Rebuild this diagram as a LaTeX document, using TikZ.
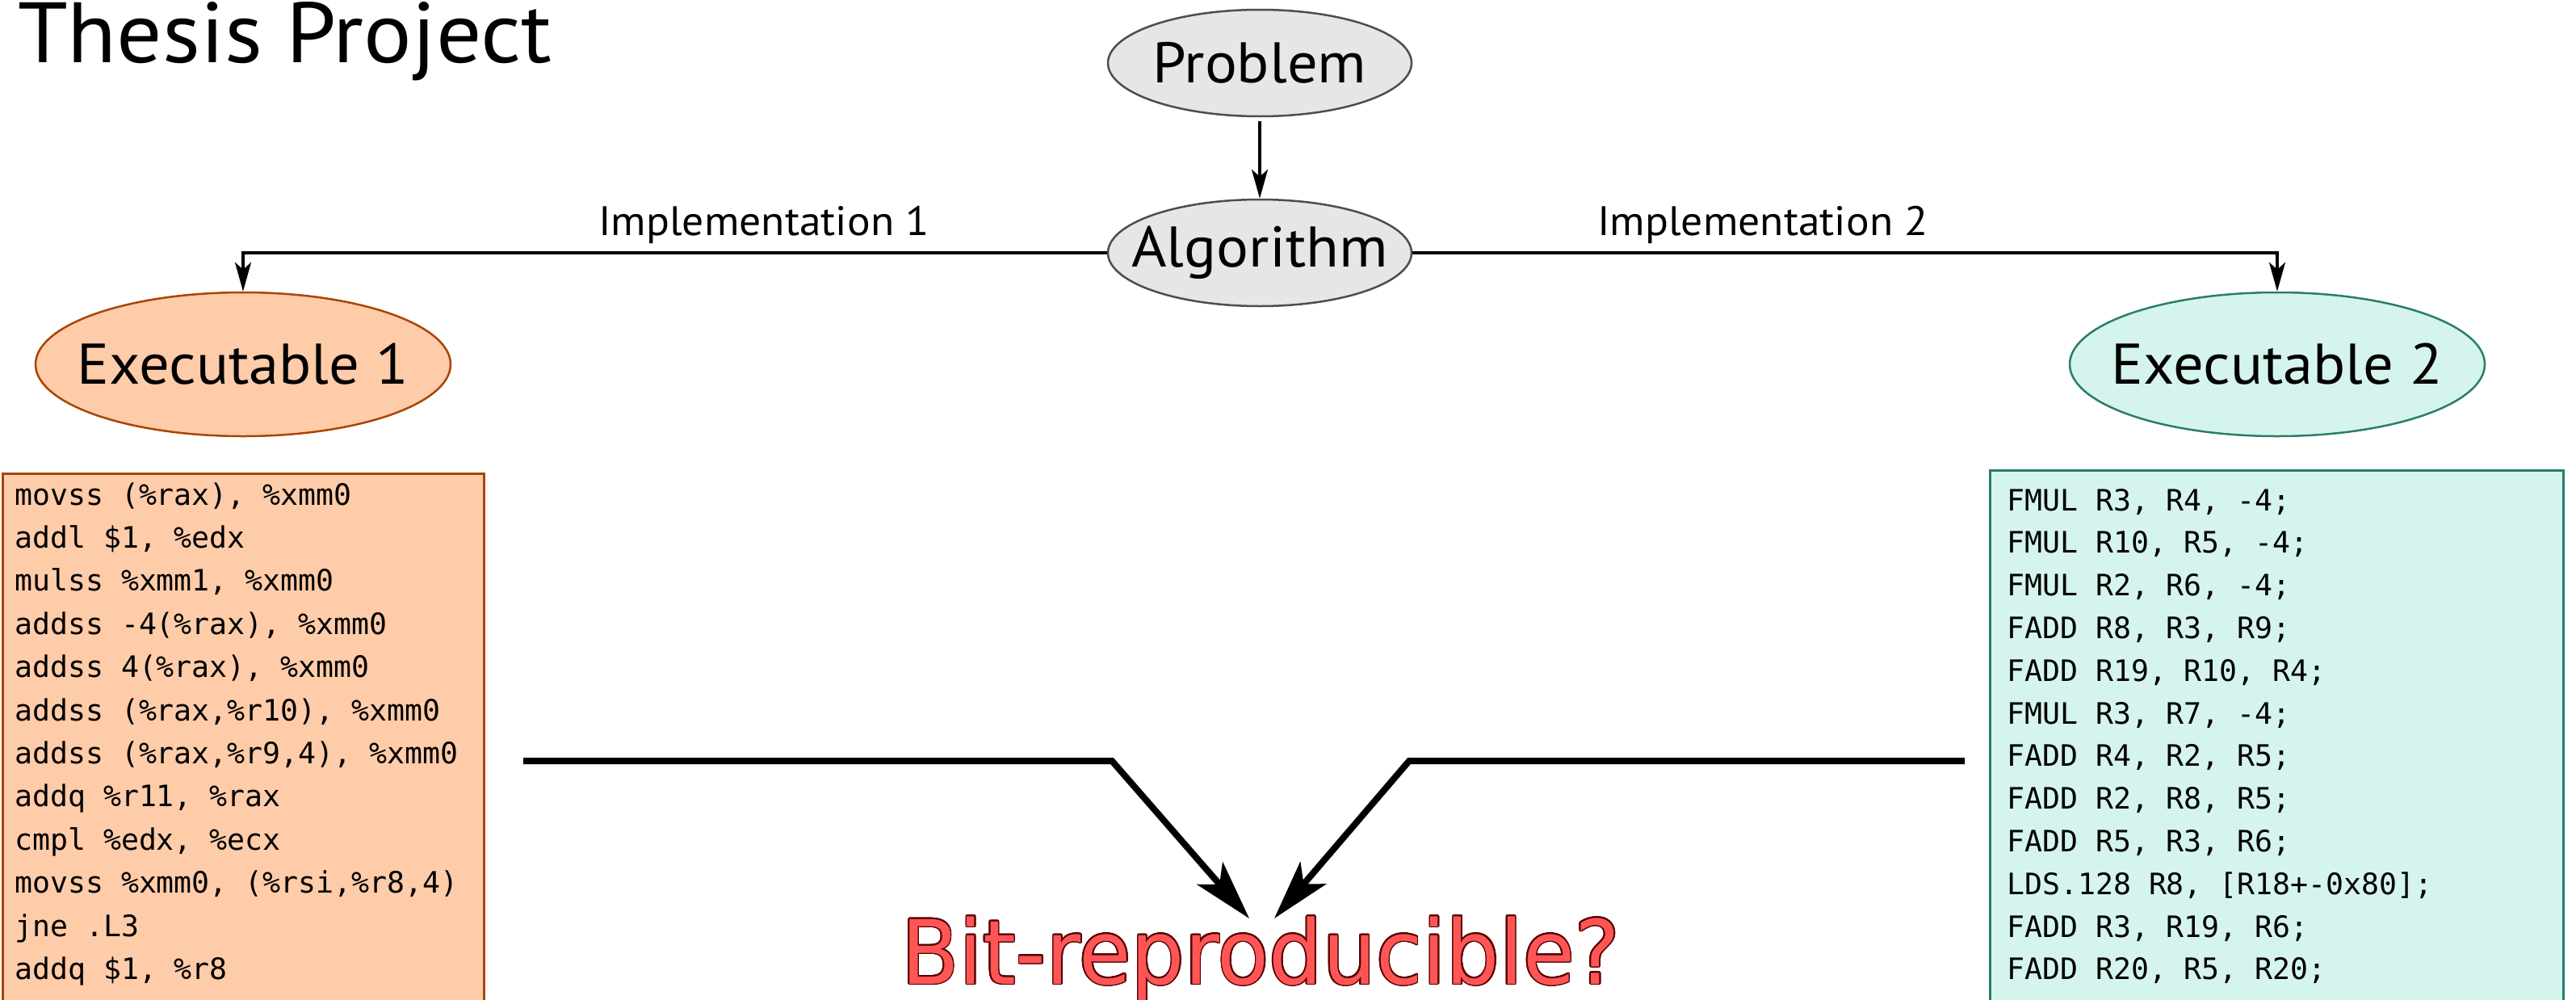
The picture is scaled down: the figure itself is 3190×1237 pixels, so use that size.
\documentclass[tikz,border=0pt]{standalone}
\usepackage{fontspec}
\setmainfont[FakeStretch=1.05]{PT Sans}
\newfontfamily\codefont{DejaVu Sans Mono}
\newfontfamily\headfont[FakeStretch=0.95]{DejaVu Sans}
\usetikzlibrary{shapes.geometric,arrows.meta}

\definecolor{peachfill}{HTML}{FFCCAA}
\definecolor{peachline}{HTML}{AA4400}
\definecolor{mintfill}{HTML}{D5F4EE}
\definecolor{mintline}{HTML}{2A7D6C}
\definecolor{greyfill}{HTML}{E6E6E6}
\definecolor{greyline}{HTML}{4D4D4D}
\definecolor{alarmred}{HTML}{FF5555}
\definecolor{alarmdark}{HTML}{550000}

\begin{document}
\begin{tikzpicture}[x=1pt,y=-1pt,
  oval/.style={ellipse, line width=2.5pt, inner sep=0pt,
    font=\fontsize{71}{80}\selectfont},
  stage/.style={oval, draw=greyline, fill=greyfill,
    minimum width=376pt, minimum height=132pt},
  exe1/.style={oval, draw=peachline, fill=peachfill,
    minimum width=514pt, minimum height=178pt},
  exe2/.style={oval, draw=mintline, fill=mintfill,
    minimum width=514pt, minimum height=178pt},
  thinarrow/.style={line width=3.5pt, -{Stealth[length=36pt,width=20pt,inset=9pt]}},
  bigarrow/.style={line width=8pt, -{Stealth[length=74pt,width=42pt,inset=18pt]}},
  impl/.style={anchor=base, inner sep=0pt, font=\fontsize{51}{60}\selectfont},
  codeline/.style={anchor=base west, inner sep=0pt,
    font=\codefont\fontsize{36.5}{54}\selectfont},
  verdict/.style={anchor=base, inner sep=0pt,
    font=\headfont\fontsize{110}{120}\selectfont},
]
\useasboundingbox (0,0) rectangle (3190,1237);
\begin{scope}
\clip (0,0) rectangle (3190,1237);

% title
\node[anchor=base west, inner sep=0pt, font=\fontsize{106}{120}\selectfont]
  (title) at (22,77) {Thesis Project};

% central chain
\node[stage] (prob) at (1560,78)  {\makebox[0pt]{Problem}};
\node[stage] (alg)  at (1560,313) {\makebox[0pt]{Algorithm}};
\node[exe1]  (ex1)  at (301,451)  {\makebox[0pt]{Executable 1}};
\node[exe2]  (ex2)  at (2820,451) {\makebox[0pt]{Executable 2}};

\draw[thinarrow, shorten <=5pt] (prob.south) -- (alg.north);
\draw[thinarrow] (alg.west) -| (ex1.north);
\draw[thinarrow] (alg.east) -| (ex2.north);

\node[impl] (impl1) at (946,291)  {Implementation 1};
\node[impl] (impl2) at (2183,291) {Implementation 2};

% code listings
\draw[draw=peachline, fill=peachfill, line width=3pt] (3,586) rectangle (599,1260);
\draw[draw=mintline, fill=mintfill, line width=3pt] (2464,582) rectangle (3174,1260);

\foreach \cl [count=\i from 0] in {
  {movss (\%rax), \%xmm0},
  {addl \$1, \%edx},
  {mulss \%xmm1, \%xmm0},
  {addss -4(\%rax), \%xmm0},
  {addss 4(\%rax), \%xmm0},
  {addss (\%rax,\%r10), \%xmm0},
  {addss (\%rax,\%r9,4), \%xmm0},
  {addq \%r11, \%rax},
  {cmpl \%edx, \%ecx},
  {movss \%xmm0, (\%rsi,\%r8,4)},
  {jne .L3},
  {addq \$1, \%r8}}
  \node[codeline, name=asm\i] at (18,625+\i*53.4) {\cl};

\foreach \cl [count=\i from 0] in {
  {FMUL R3, R4, -4;},
  {FMUL R10, R5, -4;},
  {FMUL R2, R6, -4;},
  {FADD R8, R3, R9;},
  {FADD R19, R10, R4;},
  {FMUL R3, R7, -4;},
  {FADD R4, R2, R5;},
  {FADD R2, R8, R5;},
  {FADD R5, R3, R6;},
  {LDS.128 R8, [R18+-0x80];},
  {FADD R3, R19, R6;},
  {FADD R20, R5, R20;}}
  \node[codeline, name=sass\i] at (2485,632+\i*52.8) {\cl};

% outlined question: dark copies round the red text
\foreach \a [count=\k] in {0,22.5,...,337.5}
  \node[verdict, text=alarmdark, name=halo\k] at ([shift={(\a:1.7)}] 1561,1218) {Bit-reproducible?};
\node[verdict, text=alarmred] (q) at (1561,1218) {Bit-reproducible?};

% converging arrows
\coordinate (lstart) at (648,942);
\coordinate (lbend)  at (1377,942);
\coordinate (rstart) at (2433,942);
\coordinate (rbend)  at (1745,942);
\coordinate (ltip)   at (1547,1137);
\coordinate (rtip)   at (1578,1137);
\draw[bigarrow] (lstart) -- (lbend) -- (ltip);
\draw[bigarrow] (rstart) -- (rbend) -- (rtip);
\end{scope}
\end{tikzpicture}
\end{document}
